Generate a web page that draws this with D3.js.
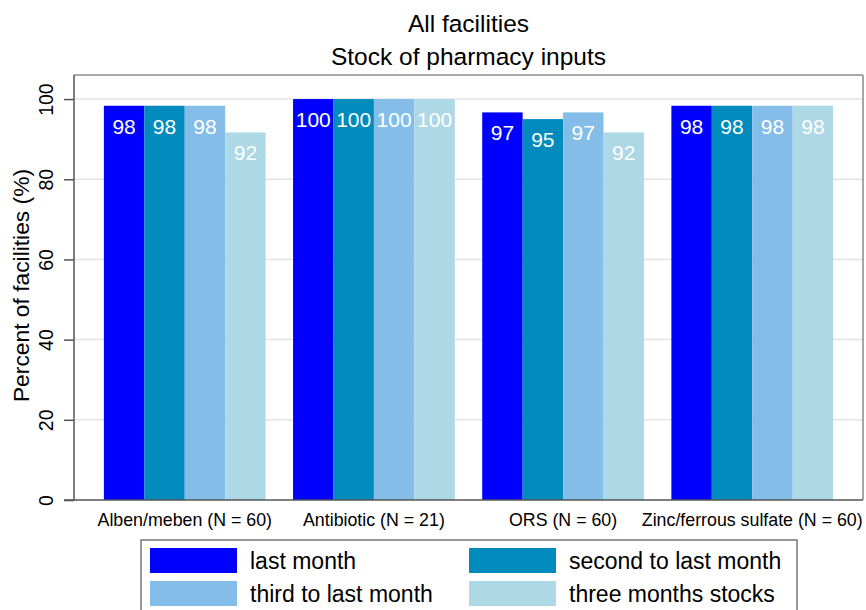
<!DOCTYPE html>
<html>
<head>
<meta charset="utf-8">
<script src="https://cdn.jsdelivr.net/npm/d3@7"></script>
<style>
  html, body { margin: 0; padding: 0; background: #fff; }
  svg { display: block; font-family: Arial, "Liberation Sans", sans-serif; }
</style>
</head>
<body>
<svg id="chart" width="866" height="610"></svg>
<script>
const titleLines = ["All facilities", "Stock of pharmacy inputs"];
const categories = ["Alben/meben (N = 60)", "Antibiotic (N = 21)", "ORS (N = 60)", "Zinc/ferrous sulfate (N = 60)"];
const seriesNames = ["last month", "second to last month", "third to last month", "three months stocks"];
const seriesColors = ["#0000ff", "#008bbc", "#84bee8", "#add8e6"];
const lastMonth = [98.33, 100, 96.67, 98.33];
const secondToLast = [98.33, 100, 95.0, 98.33];
const thirdToLast = [98.33, 100, 96.67, 98.33];
const threeMonths = [91.67, 100, 91.67, 98.33];
const yTicks = [0, 20, 40, 60, 80, 100];
const yLabel = "Percent of facilities (%)";

const seriesValues = [lastMonth, secondToLast, thirdToLast, threeMonths];

const svg = d3.select("#chart");
const L = 74, R = 863, T = 75, B = 500;

const x0 = d3.scaleBand().domain(categories).range([L, R]).paddingInner(0.145).paddingOuter(0.158);
const x1 = d3.scaleBand().domain(d3.range(seriesNames.length)).range([0, x0.bandwidth()]).padding(0);
const y = d3.scaleLinear().domain([0, 106]).range([B, T]);

// title
svg.append("g").selectAll("text").data(titleLines).join("text")
  .attr("x", (L + R) / 2).attr("y", (d, i) => 32 + i * 33)
  .attr("text-anchor", "middle").attr("font-size", 24.5).attr("fill", "#000")
  .text(d => d);

// gridlines
svg.append("g").selectAll("line").data(yTicks.filter(d => d > 0)).join("line")
  .attr("x1", L).attr("x2", R).attr("y1", d => y(d)).attr("y2", d => y(d))
  .attr("stroke", "#e4e4e4").attr("stroke-width", 1.5);

// frame top & right
svg.append("line").attr("x1", L).attr("x2", R).attr("y1", T).attr("y2", T)
  .attr("stroke", "#555").attr("stroke-width", 1);
svg.append("line").attr("x1", R).attr("x2", R).attr("y1", T).attr("y2", B)
  .attr("stroke", "#888").attr("stroke-width", 1.5);

// bars
const groups = svg.append("g").selectAll("g").data(categories).join("g")
  .attr("transform", d => `translate(${x0(d)},0)`);
groups.each(function(cat, ci) {
  const g = d3.select(this);
  const vals = seriesValues.map((s, si) => ({ si, v: s[ci] }));
  g.selectAll("rect").data(vals).join("rect")
    .attr("x", d => x1(d.si)).attr("width", x1.bandwidth())
    .attr("y", d => y(d.v)).attr("height", d => y(0) - y(d.v))
    .attr("fill", d => seriesColors[d.si]);
  g.selectAll("text").data(vals).join("text")
    .attr("x", d => x1(d.si) + x1.bandwidth() / 2)
    .attr("y", d => y(d.v) + 28)
    .attr("text-anchor", "middle").attr("font-size", 21).attr("fill", "#fff")
    .text(d => d3.format(".0f")(d.v));
});

// y axis
const yAxis = d3.axisLeft(y).tickValues(yTicks).tickSize(10).tickPadding(0).tickFormat(d3.format("d"));
const ya = svg.append("g").attr("transform", `translate(${L},0)`).call(yAxis);
ya.select(".domain").attr("d", `M0,${T}V${B}`).attr("stroke", "#555").attr("stroke-width", 1.5);
ya.selectAll(".tick line").attr("stroke", "#555").attr("stroke-width", 1.5);
ya.selectAll(".tick text")
  .attr("font-size", 19.5).attr("fill", "#000").attr("font-family", "Arial, 'Liberation Sans', sans-serif")
  .attr("text-anchor", "middle").attr("dy", null).attr("x", null)
  .attr("transform", "translate(-21,0) rotate(-90)");

// x axis line
svg.append("line").attr("x1", L - 10).attr("x2", R).attr("y1", B).attr("y2", B)
  .attr("stroke", "#555").attr("stroke-width", 1.5);

// category labels
svg.append("g").selectAll("text").data(categories).join("text")
  .attr("x", d => x0(d) + x0.bandwidth() / 2).attr("y", 526)
  .attr("text-anchor", "middle").attr("font-size", 17.8).attr("fill", "#000")
  .text(d => d);

// y label
svg.append("text").attr("transform", `translate(29,${(y(0) + y(100)) / 2 - 14}) rotate(-90)`)
  .attr("text-anchor", "middle").attr("font-size", 22.8).attr("fill", "#000").text(yLabel);

// legend
const lg = svg.append("g");
lg.append("rect").attr("x", 141).attr("y", 540).attr("width", 656).attr("height", 90)
  .attr("fill", "#fff").attr("stroke", "#777").attr("stroke-width", 1.5);
const colX = [150, 469], rowY = [548, 581];
const items = lg.selectAll("g").data(seriesNames).join("g")
  .attr("transform", (d, i) => `translate(${colX[i % 2]},${rowY[Math.floor(i / 2)]})`);
items.append("rect").attr("width", 87).attr("height", 25).attr("fill", (d, i) => seriesColors[i]);
items.append("text").attr("x", 100).attr("y", 21).attr("font-size", 23).attr("fill", "#000").text(d => d);
</script>
</body>
</html>
